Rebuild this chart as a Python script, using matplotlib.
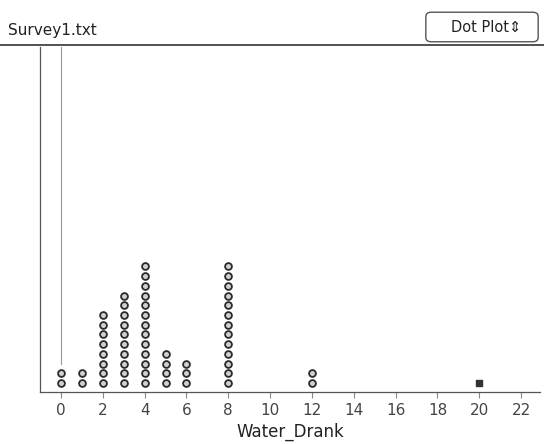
import numpy as np
import matplotlib.pyplot as plt
from matplotlib.patches import FancyBboxPatch

# Water_Drank values and how many responses fell on each
values = [0, 1, 2, 3, 4, 5, 6, 8, 12, 20]
counts = [2, 2, 8, 10, 13, 4, 3, 13, 2, 1]
selected = [20]
ticks = list(range(0, 23, 2))

fig = plt.figure(figsize=(5.44, 4.44), dpi=100)
fig.patch.set_facecolor("white")

ax = fig.add_axes([40 / 544, 52 / 444, 500 / 544, 345 / 444])

xs, ys, sel_x, sel_y = [], [], [], []
for v, c in zip(values, counts):
    for k in range(c):
        if v in selected:
            sel_x.append(v)
            sel_y.append(k)
        else:
            xs.append(v)
            ys.append(k)

ax.scatter(xs, ys, s=24, facecolor="#d0d0d0", edgecolor="#2a2a2a", linewidths=1.3, zorder=3)
ax.scatter(sel_x, sel_y, s=22, marker="s", facecolor="#333333", edgecolor="#333333", zorder=3)

ax.set_xlim(-1.0, 22.9)
ax.set_ylim(-0.93, 34.6)

# thin reference line at zero
ax.axvline(0, ymin=(2.0 + 0.93) / 35.53, ymax=1, color="#999999", lw=0.8, zorder=1)

ax.set_xticks(ticks)
ax.set_xticklabels([str(t) for t in ticks], fontsize=11, color="#444444")
ax.set_yticks([])
ax.tick_params(axis="x", direction="out", length=4, width=0.8, color="#888888", pad=4)

for s in ["top", "right"]:
    ax.spines[s].set_visible(False)
ax.spines["left"].set_color("#555555")
ax.spines["bottom"].set_color("#555555")
ax.spines["left"].set_linewidth(0.9)
ax.spines["bottom"].set_linewidth(0.9)

ax.set_xlabel("Water_Drank", fontsize=12, color="#222222", labelpad=3)

# header strip
fig.text(8 / 544, 1 - 31 / 444, "Survey1.txt", fontsize=11, color="#222222", va="center")
fig.add_artist(plt.Line2D([0, 1], [1 - 45 / 444, 1 - 45 / 444], color="#333333", lw=1.2))
btn = FancyBboxPatch((428 / 544, 1 - 40 / 444), 108 / 544, 26 / 444,
                     boxstyle="round,pad=0.004,rounding_size=0.01",
                     transform=fig.transFigure, facecolor="white",
                     edgecolor="#555555", lw=1.0)
fig.add_artist(btn)
fig.text(486 / 544, 1 - 27 / 444, "Dot Plot\u21d5", fontsize=10.5, color="#222222",
         ha="center", va="center")

fig.savefig("out.png", dpi=100)
